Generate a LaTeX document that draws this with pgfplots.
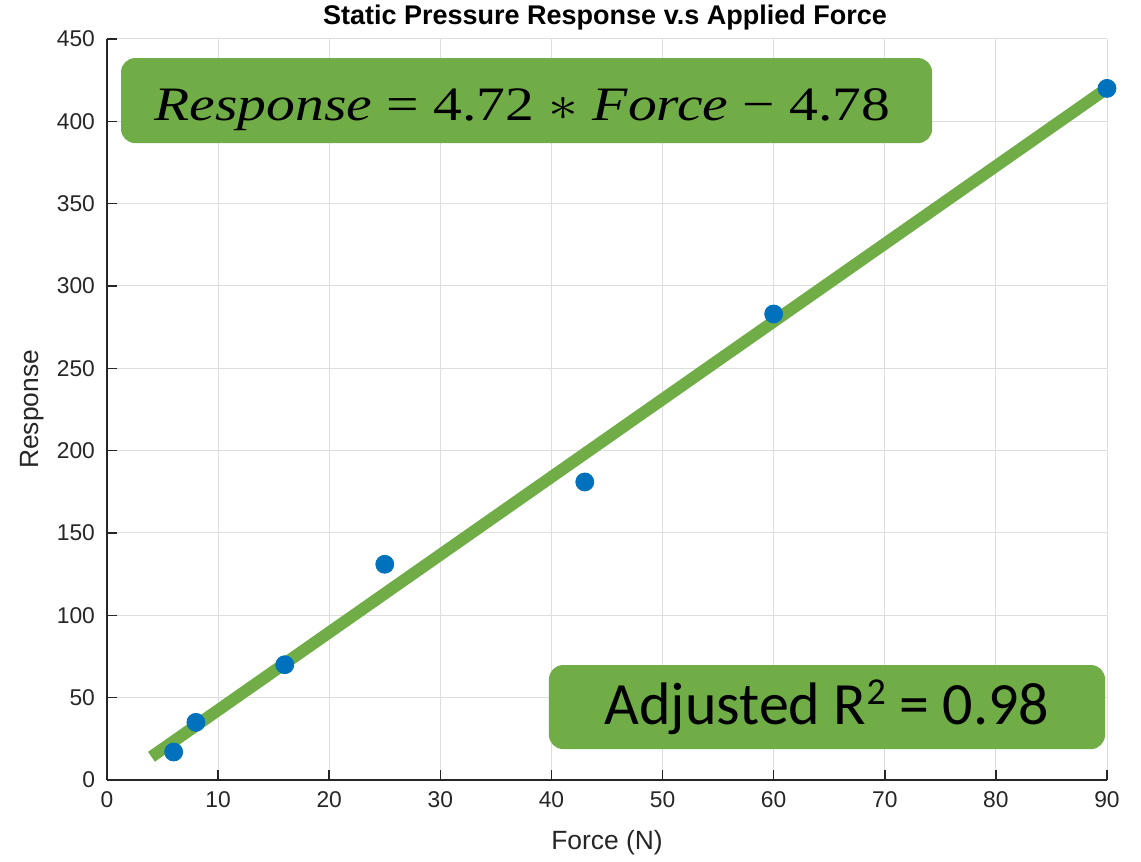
\documentclass[border=0pt]{standalone}
\usepackage{fontspec}
\setmainfont{Liberation Sans}
\newfontfamily\eqfont{Liberation Serif}
\newfontfamily\calfont{Carlito}
\usepackage{pgfplots}
\pgfplotsset{compat=1.18}

\definecolor{mblue}{RGB}{0,114,189}
\definecolor{fitgreen}{RGB}{112,173,71}
\definecolor{axgray}{RGB}{38,38,38}

\begin{document}
\begin{tikzpicture}
\begin{axis}[
    name=ax,
    scale only axis,
    width=500pt, height=370.5pt,
    xmin=0, xmax=90, ymin=0, ymax=450,
    xtick={0,10,...,90},
    ytick={0,50,...,450},
    axis lines=left,
    axis line style={-, axgray, line width=0.8pt},
    tick align=inside,
    major tick length=5pt,
    tick style={axgray, line width=0.8pt},
    grid=major,
    grid style={black!13, line width=0.5pt},
    ticklabel style={font=\fontsize{11.4}{13}\selectfont, text=axgray},
    xticklabel style={yshift=-2.5pt},
    yticklabel style={xshift=-2.5pt},
    /pgf/number format/assume math mode=true,
    xlabel={Force (N)},
    ylabel={Response},
    label style={font=\fontsize{13.2}{15}\selectfont, text=axgray},
    xlabel style={at={(axis description cs:0.5,-0.085)}, anchor=center},
    ylabel style={at={(axis description cs:-0.075,0.5)}, anchor=center},
    every axis title shift=0pt,
    title={\textbf{Static Pressure Response v.s Applied Force}},
    title style={font=\fontsize{13.5}{15}\selectfont, at={(axis description cs:0.498,1)}, anchor=base, yshift=7pt, inner sep=0pt},
    clip=false,
]
\addplot[only marks, mark=*, mark size=4.5pt, mblue, mark options={fill=mblue, draw=mblue}]
coordinates {
    (6,17) (8,35) (16,70) (25,131) (43,181) (60,283) (90,420)
};
\addplot[fitgreen, line width=6pt] coordinates {(4,14.1) (90,420.0)};

\node[fill=fitgreen, rounded corners=7pt, minimum width=405.5pt, minimum height=42.5pt, inner sep=0pt]
    at (axis cs:37.76,412.6) {};
\node[inner sep=0pt, anchor=base] at (axis cs:37.4,400.8)
    {\scalebox{1.2}[1]{\fontsize{24}{28}\eqfont\itshape Response \upshape= 4.72 $\ast$ \itshape Force \upshape − 4.78}};
\node[fill=fitgreen, rounded corners=7pt, minimum width=278pt, minimum height=42pt, inner sep=0pt]
    at (axis cs:64.8,44.3)
    {\fontsize{30}{35}\calfont Adjusted R\raisebox{10pt}{\fontsize{19}{20}\selectfont 2} = 0.98};
\end{axis}
\path ([xshift=-53.5pt,yshift=-39.5pt]ax.south west) rectangle ([xshift=17pt,yshift=19.5pt]ax.north east);
\end{tikzpicture}
\end{document}
